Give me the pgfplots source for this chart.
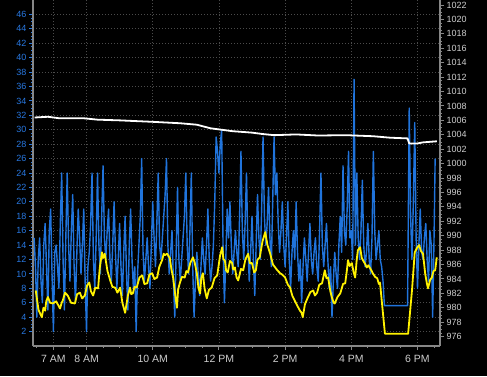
\documentclass[border=0pt]{standalone}
\usepackage{fontspec}
\setmainfont{Liberation Sans}
\usepackage{pgfplots}
\pgfplotsset{compat=1.18}
\definecolor{gust}{RGB}{32,116,220}
\definecolor{lbl}{RGB}{40,120,225}
\definecolor{gridc}{RGB}{75,75,75}
\definecolor{axc}{RGB}{135,135,135}
\definecolor{xl}{RGB}{205,205,205}
\begin{document}
\begin{tikzpicture}
\path[use as bounding box, fill=black] (0,0) rectangle (487pt,376pt);
\begin{axis}[
  scale only axis, width=407pt, height=346pt,
  at={(33pt,30pt)}, anchor=south west,
  xmin=383, xmax=1120.8, ymin=0, ymax=48,
  axis x line*=bottom, axis y line*=left,
  axis line style={draw=axc, line width=1.5pt},
  xtick={420,480,600,720,840,960,1080},
  xticklabels={7 AM,8 AM,10 AM,12 PM,2 PM,4 PM,6 PM},
  minor xtick={390,450,510,540,570,630,660,690,750,780,810,870,900,930,990,1020,1050,1110},
  ytick={2,4,...,46},
  minor y tick num=3,
  tick align=outside,
  major tick length=4pt, minor tick length=2pt,
  xtick style={draw=axc, line width=1pt},
  ytick style={draw=lbl, line width=1pt},
  /pgf/number format/assume math mode=true,
  xticklabel style={font=\fontsize{10.5}{10.5}\selectfont, text=xl, yshift=-2pt},
  yticklabel style={font=\fontsize{9}{9}\selectfont, text=lbl, xshift=1pt},
  grid=major,
  grid style={draw=gridc, line width=0.7pt, dash pattern=on 1pt off 2pt},
]
\addplot[gust, line width=1.4pt, line join=round] coordinates {
(385,15)(387.5,11)(390,4)(392.5,12)(395,15)(397.5,9)(400,6)(402.5,14)(405,17)(407.5,11)
(410,5)(412.5,16)(415,19)(417.5,10)(420,2)(422.5,13)(425,14)(427.5,11)(430,8)(432.5,17)
(435,24)(437.5,12)(440,5)(442.5,15)(445,24)(447.5,14)(450,9)(452.5,16)(455,21)(457.5,11)
(460,6)(462.5,13)(465,19)(467.5,15)(470,10)(472.5,14)(475,19)(477.5,9)(480,2)(482.5,11)
(485,13)(487.5,17)(490,24)(492.5,12)(495,8)(497.5,15)(500,24)(502.5,14)(505,10)(507.5,18)
(510,25)(512.5,15)(515,12)(517.5,16)(520,19)(522.5,12)(525,9)(527.5,14)(530,20)(532.5,13)
(535,8)(537.5,12)(540,17)(542.5,11)(545,7)(547.5,13)(550,18)(552.5,10)(555,5)(557.5,14)
(560,19)(562.5,12)(565,8)(567.5,11)(570,2)(572.5,10)(575,14)(577.5,18)(580,26)(582.5,13)
(585,9)(587.5,12)(590,15)(592.5,11)(595,8)(597.5,14)(600,20)(602.5,15)(605,11)(607.5,17)
(610,24)(612.5,14)(615,12)(617.5,15)(620,18)(622.5,21)(625,26)(627.5,14)(630,10)(632.5,13)
(635,16)(637.5,9)(640,4)(642.5,13)(645,22)(647.5,12)(650,9)(652.5,12)(655,15)(657.5,18)
(660,24)(662.5,14)(665,10)(667.5,16)(670,24)(672.5,11)(675,4)(677.5,9)(680,13)(682.5,10)
(685,7)(687.5,11)(690,15)(692.5,12)(695,10)(697.5,14)(700,19)(702.5,12)(705,9)(707.5,11)
(710,14)(712.5,20)(715,29)(717.5,27)(720,24)(722.5,28)(725,30)(727.5,14)(730,6)(732.5,12)
(735,19)(737.5,15)(740,20)(742.5,14)(745,10)(747.5,13)(750,16)(752.5,13)(755,11)(757.5,18)
(760,27)(762.5,16)(765,12)(767.5,17)(770,24)(772.5,14)(775,9)(777.5,13)(780,18)(782.5,12)
(785,7)(787.5,14)(790,21)(792.5,15)(795,12)(797.5,19)(800,29)(802.5,18)(805,14)(807.5,17)
(810,22)(812.5,15)(815,11)(817.5,20)(820,29)(822.5,21)(825,24)(827.5,17)(830,13)(832.5,16)
(835,20)(837.5,14)(840,11)(842.5,15)(845,20)(847.5,12)(850,8)(852.5,13)(855,16)(857.5,12)
(860,20)(862.5,13)(865,9)(867.5,12)(870,6)(872.5,11)(875,15)(877.5,12)(880,9)(882.5,13)
(885,17)(887.5,12)(890,10)(892.5,13)(895,15)(897.5,11)(900,9)(902.5,16)(905,24)(907.5,14)
(910,11)(912.5,14)(915,17)(917.5,12)(920,8)(922.5,11)(925,4)(927.5,9)(930,13)(932.5,10)
(935,8)(937.5,14)(940,18)(942.5,13)(945,25)(947.5,16)(950,14)(952.5,19)(955,27)(957.5,15)
(960,16)(962.5,12)(965,37)(967.5,14)(970,24)(972.5,15)(975,12)(977.5,16)(980,23)(982.5,14)
(985,11)(987.5,13)(990,17)(992.5,12)(995,10)(997.5,15)(1000,27)(1002.5,16)(1005,12)(1007.5,14)
(1010,16)(1012.5,12)(1015,11)(1017.5,9)(1020,5.6)(1062,5.6)
(1065,33)(1067.5,18)(1070,12)(1072.5,20)(1075,31)(1077.5,15)(1080,8)(1082.5,14)(1085,19)
(1087.5,13)(1090,12)(1092.5,15)(1095,17)(1097.5,12)(1100,9)(1102.5,16)(1105,14)(1107.5,4)
(1110,15)(1112,26)
};
\addplot[yellow, line width=1.8pt, line join=round] coordinates {
(388,7.7)(393,5.0)(399,4.0)(402,5.3)(405,4.9)(407,6.2)(410,6.8)(414,6.0)(419,5.9)(425,6.2)
(432,5.2)(435,6.0)(437,6.3)(441,7.4)(446,7.0)(452,6.0)(459,5.9)(463,7.2)(468,7.4)(472,6.6)
(477,7.0)(481,8.4)(485,8.8)(488,7.6)(492,7.0)(496,8.1)(501,8.0)(504,10.8)(508,13.0)(510,12.2)
(513,12.8)(518,10.4)(523,9.1)(527,8.2)(532,8.1)(536,7.4)(541,8.1)(545,6.0)(550,4.6)(555,7.0)
(559,8.1)(561,7.2)(564,7.3)(567,8.2)(571,8.1)(576,9.5)(581,9.8)(585,8.6)(590,8.7)(594,9.9)
(599,10.1)(603,9.3)(608,9.5)(612,11.0)(617,11.9)(620,12.8)(622,12.6)(626,12.8)(631,12.2)
(634,10.6)(637,9.5)(641,7.0)(644,5.3)(646,7.8)(649,8.7)(653,9.6)(658,9.5)(661,10.4)(664,10.2)
(668,11.5)(673,12.3)(676,11.6)(680,10.1)(683,8.0)(686,7.3)(688,9.4)(691,10.1)(694,8.0)
(698,6.6)(702,7.8)(707,8.1)(712,9.4)(717,9.8)(722,12.5)(726,13.7)(728,12.1)(731,11.8)
(733,10.5)(736,10.2)(740,11.8)(744,11.5)(746,10.6)(749,10.9)(752,9.5)(755,9.1)(760,10.7)
(764,10.5)(768,12.0)(773,12.8)(776,11.5)(780,11.5)(784,10.2)(787,10.5)(790,12.0)(794,12.3)
(799,14.5)(804,15.8)(808,14.0)(813,12.8)(818,11.3)(822,10.9)(826,10.5)(831,10.1)(835,9.9)
(840,9.5)(845,8.5)(849,8.1)(853,7.0)(858,6.2)(862,5.6)(867,4.9)(870,4.6)(872,4.0)(876,5.8)
(881,6.7)(886,7.5)(891,7.7)(894,7.0)(898,7.4)(902,8.5)(907,8.7)(910,9.8)(912,10.5)(915,9.4)
(918,9.5)(922,7.6)(925,6.7)(928,6.0)(930,5.9)(935,6.8)(940,7.3)(945,8.6)(949,8.7)(952,10.5)
(954,11.9)(957,11.1)(961,11.5)(964,10.3)(967,9.5)(970,12.1)(972,13.3)(976,13.7)(979,12.2)
(981,11.9)(985,11.4)(988,10.9)(991,11.2)(994,10.8)(997,10.4)(999,10.1)(1003,9.6)(1007,9.4)
(1010,8.6)(1012,8.8)(1021,1.7)(1063,1.7)(1070,7.7)(1075,13.0)(1079,13.6)(1083,14.0)
(1086,13.2)(1090,12.8)(1094,10.0)(1097,8.7)(1099,8.0)(1103,9.2)(1106,9.5)(1109,10.4)
(1112,10.5)(1115,12.3)
};
\end{axis}
\begin{axis}[
  scale only axis, width=407pt, height=346pt,
  at={(33pt,30pt)}, anchor=south west,
  xmin=383, xmax=1120.8, ymin=974.7, ymax=1022.7,
  axis x line=none, axis y line*=right,
  axis line style={draw=axc, line width=1.5pt},
  ytick={976,978,...,1022},
  minor y tick num=3,
  tick align=outside,
  major tick length=4pt, minor tick length=2pt,
  ytick style={draw=axc, line width=1pt},
  /pgf/number format/.cd, 1000 sep={}, assume math mode=true, /pgfplots/.cd,
  yticklabel style={font=\fontsize{9}{9}\selectfont, text=xl, xshift=-1pt},
]
\addplot[white, line width=1.8pt, line join=round] coordinates {
(386,1006.4)(410,1006.5)(430,1006.3)(474,1006.3)(500,1006.1)(541,1006.0)(570,1005.9)
(600,1005.8)(650,1005.6)(680,1005.4)(705,1004.9)(725,1004.7)(745,1004.5)(780,1004.3)
(800,1004.1)(820,1003.95)(860,1004.05)(900,1003.9)(950,1003.95)(1000,1003.8)(1030,1003.6)
(1062,1003.5)(1065,1002.8)(1080,1002.8)(1090,1002.95)(1115,1003.1)
};
\end{axis}
\end{tikzpicture}
\end{document}
